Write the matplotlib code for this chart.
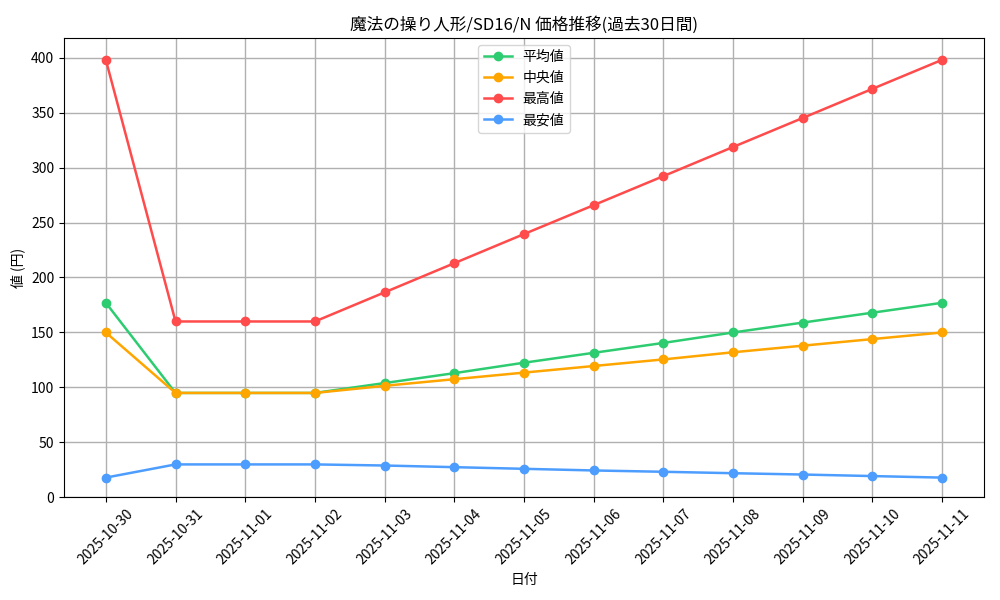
import matplotlib
matplotlib.use("Agg")
import matplotlib.pyplot as plt

plt.rcParams['font.family'] = ['Noto Sans CJK JP', 'DejaVu Sans']

dates = ["2025-10-30", "2025-10-31", "2025-11-01", "2025-11-02", "2025-11-03",
         "2025-11-04", "2025-11-05", "2025-11-06", "2025-11-07", "2025-11-08",
         "2025-11-09", "2025-11-10", "2025-11-11"]
avg_vals = [177, 95, 95, 95, 104, 113, 122.5, 131.5, 140.5, 150, 159, 168, 177]
median_vals = [150, 95, 95, 95, 101.5, 107.5, 113.5, 119.5, 125.5, 132, 138, 144, 150]
max_vals = [398, 160, 160, 160, 186.5, 213, 239.5, 265.8, 292.2, 318.7, 345.1, 371.6, 398]
min_vals = [18, 30, 30, 30, 29, 27.5, 26, 24.5, 23.3, 22, 20.8, 19.4, 18]

fig, ax = plt.subplots(figsize=(10, 6), dpi=100)
x = list(range(len(dates)))
ax.plot(x, avg_vals, marker='o', color='#2ECC71', linewidth=1.8, markersize=6, label='平均値')
ax.plot(x, median_vals, marker='o', color='#FFA500', linewidth=1.8, markersize=6, label='中央値')
ax.plot(x, max_vals, marker='o', color='#FF4B4B', linewidth=1.8, markersize=6, label='最高値')
ax.plot(x, min_vals, marker='o', color='#4D9DFF', linewidth=1.8, markersize=6, label='最安値')

ax.set_xticks(x)
ax.set_xticklabels(dates, rotation=45)
ax.set_ylim(0, 418)
ax.set_title('魔法の操り人形/SD16/N 価格推移(過去30日間)', fontsize=12)
ax.set_xlabel('日付')
ax.set_ylabel('値 (円)')
ax.grid(True, color='#b0b0b0', linewidth=1)
ax.legend(loc='upper center')
fig.subplots_adjust(left=0.064, right=0.984, top=0.937, bottom=0.171)
fig.savefig('out.png')
